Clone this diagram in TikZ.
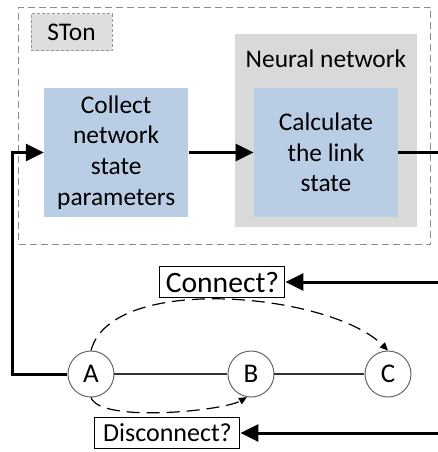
\documentclass[tikz,border=0pt]{standalone}
\usepackage{fontspec}
\setmainfont{Carlito}
\usetikzlibrary{arrows.meta, positioning}

\definecolor{blockblue}{HTML}{B9CDE5}

\begin{document}
\begin{tikzpicture}[
	x=0.5pt, y=0.5pt,
	block/.style={rectangle, fill=blockblue, minimum width=72pt, minimum height=64.5pt, inner sep=0pt, align=center, font=\fontsize{12.7}{15.3}\selectfont},
	nnbox/.style={rectangle, fill=black!15, minimum width=91pt, minimum height=96.5pt},
	frame/.style={rectangle, draw=black!45, dash pattern=on 3.5pt off 2pt, line width=0.5pt, minimum width=206pt, minimum height=118.5pt},
	tag/.style={rectangle, draw=black!40, dash pattern=on 1.5pt off 1pt, line width=0.4pt, fill=black!13, minimum width=40.5pt, minimum height=18.5pt, font=\fontsize{12.7}{15}\selectfont},
	query/.style={rectangle, draw, line width=0.5pt, fill=white, inner sep=0pt, minimum height=15.5pt},
	station/.style={circle, draw=black!60, line width=0.5pt, fill=white, minimum size=23pt, inner sep=0pt, font=\fontsize{13.5}{15}\selectfont},
	arrow/.style={-{Triangle[length=9pt, width=8.5pt]}, line width=1.5pt},
	link/.style={draw=black!80, line width=0.6pt},
	reach/.style={-{Triangle[length=4pt, width=3.5pt]}, dash pattern=on 6.5pt off 3.5pt, line width=0.6pt}
]
	\useasboundingbox (0,0) rectangle (438,-452);

	% STon frame and its parts
	\node[frame] (ston) at (225,-125.7) {};
	\node[tag] (stonlabel) at (71.5,-32) {STon};
	\node[nnbox] (nn) at (326,-130.5) {};
	\node[inner sep=0pt, below=8pt of nn.north, font=\fontsize{12.7}{15}\selectfont] (nnlabel) {Neural network};
	\node[block, above=5pt of nn.south] (calc) {Calculate\\the link\\state};
	\node[block, left=32.5pt of calc] (collect) {Collect\\network\\state\\parameters};

	% stations
	\node[station] (a) at (91,-374) {A};
	\node[station, right=56.5pt of a] (b) {B};
	\node[station, right=45pt of b] (c) {C};

	% questions coming back from the right
	\node[query, minimum width=62.5pt, font=\fontsize{14.8}{16}\selectfont] (connect) at (222.5,-282) {Connect?};
	\node[query, minimum width=72.5pt, font=\fontsize{13}{15}\selectfont] (disconnect) at (167.5,-433) {Disconnect?};

	\coordinate (edge) at (440,0);
	\coordinate (back) at (13,-374);

	\draw[arrow] (collect) -- (calc);
	\draw[line width=1.5pt] (calc.east) -- (calc.east -| edge);
	\draw[arrow] (a.west) -- (back) |- (collect.west);
	\draw[arrow] (connect.east -| edge) -- (connect.east);
	\draw[arrow] (disconnect.east -| edge) -- (disconnect.east);

	\draw[link] (a) -- (b) (b) -- (c);
	\draw[reach] (a.north) to[out=75, in=135, looseness=0.7] (c.north);
	\draw[reach] (a.south) to[out=-70, in=-150, looseness=0.45] (b.-100);
\end{tikzpicture}
\end{document}
